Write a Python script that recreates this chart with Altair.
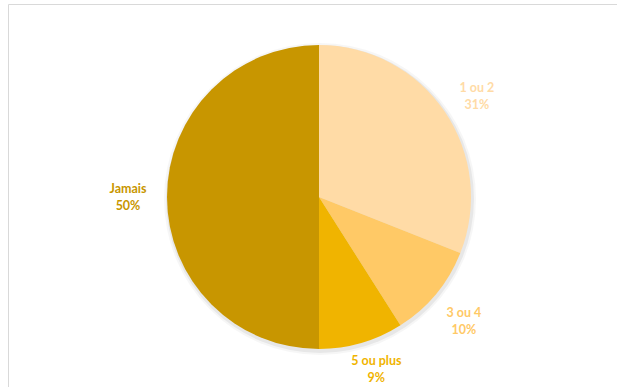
import altair as alt
import pandas as pd

categories = ["1 ou 2", "3 ou 4", "5 ou plus", "Jamais"]
percentages = [31, 10, 9, 50]
colors = ["#FFDBA6", "#FFC966", "#F0B400", "#C89600"]

# layout: label block distance from the pie centre (px) and small angular nudge (in % of the circle)
label_radius = {"1 ou 2": 187, "3 ou 4": 191, "5 ou plus": 182, "Jamais": 191}
label_nudge = {"1 ou 2": 0.5, "3 ou 4": 0.3, "5 ou plus": -0.6, "Jamais": 0.0}

df = pd.DataFrame({
    "cat": categories,
    "pct": percentages,
    "order": list(range(len(categories))),
})
df["label"] = df.apply(lambda r: [r["cat"], f"{r['pct']}%"], axis=1)
df["lr"] = df["cat"].map(label_radius)
df["nudge"] = df["cat"].map(label_nudge)

CX, CY, R = 319, 197, 152

color = alt.Color("cat:N", scale=alt.Scale(domain=categories, range=colors), legend=None)

shadow = alt.Chart(pd.DataFrame({"a": [0]})).mark_arc(
    radius=R + 4, theta=0, theta2=6.2832, color="#000000", opacity=0.035
).encode(x=alt.value(CX + 1), y=alt.value(CY + 2))
shadow2 = alt.Chart(pd.DataFrame({"a": [0]})).mark_arc(
    radius=R + 2, theta=0, theta2=6.2832, color="#000000", opacity=0.06
).encode(x=alt.value(CX + 1), y=alt.value(CY + 2))

pie = alt.Chart(df).mark_arc(outerRadius=R).encode(
    theta=alt.Theta("pct:Q", stack=True),
    order=alt.Order("order:Q"),
    color=color,
    x=alt.value(CX),
    y=alt.value(CY),
)

labels = alt.Chart(df).transform_window(
    cum="sum(pct)", sort=[alt.SortField("order")], frame=[None, 0]
).transform_calculate(
    mid="datum.cum - datum.pct / 2 + datum.nudge"
).mark_text(
    font="Lato", fontSize=12.5, fontWeight="bold",
    lineHeight=17, align="center", baseline="middle", dy=-8.5
).encode(
    theta=alt.Theta("mid:Q", stack=False, scale=alt.Scale(domain=[0, 100], range=[0, 6.283185307])),
    radius=alt.Radius("lr:Q", scale=None),
    text="label",
    color=color,
    x=alt.value(CX),
    y=alt.value(CY),
)

border_top = alt.Chart(pd.DataFrame({"a": [0]})).mark_rule(color="#D9D9D9", strokeWidth=1).encode(
    x=alt.value(8.5), x2=alt.value(617), y=alt.value(4.5)
)
border_left = alt.Chart(pd.DataFrame({"a": [0]})).mark_rule(color="#D9D9D9", strokeWidth=1).encode(
    x=alt.value(8.5), y=alt.value(4.5), y2=alt.value(387)
)

chart = alt.layer(border_top, border_left, shadow, shadow2, pie, labels).properties(
    width=618, height=387, padding=0, autosize=alt.AutoSizeParams(type="none"),
    background="white"
).configure_view(stroke=None)

chart.save("out.html", embed_options={"renderer": "svg", "actions": False})
